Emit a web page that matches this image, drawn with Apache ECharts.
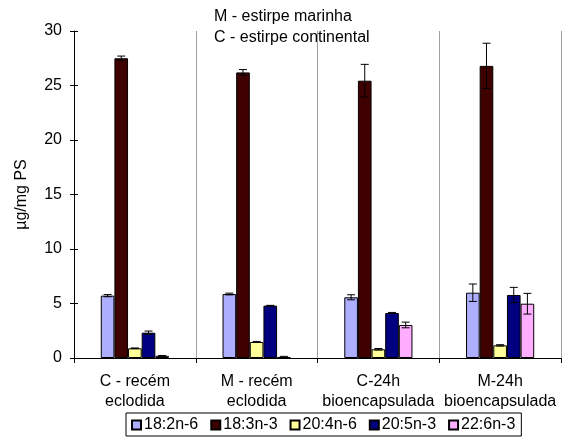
<!DOCTYPE html>
<html><head><meta charset="utf-8">
<script src="https://cdn.jsdelivr.net/npm/echarts@6/dist/echarts.min.js"></script>
<style>html,body{margin:0;padding:0;background:#fff}#c{width:562px;height:441px}</style>
</head><body><div id="c"></div>
<script>
var categories = ['C - recém\neclodida', 'M - recém\neclodida', 'C-24h\nbioencapsulada', 'M-24h\nbioencapsulada'];
var seriesNames = ['18:2n-6', '18:3n-3', '20:4n-6', '20:5n-3', '22:6n-3'];
var v_18_2n6 = [5.72, 5.87, 5.57, 5.99];
var v_18_3n3 = [27.5, 26.2, 25.44, 26.8];
var v_20_4n6 = [0.89, 1.47, 0.8, 1.16];
var v_20_5n3 = [2.32, 4.8, 4.13, 5.78];
var v_22_6n3 = [0.2, 0.1, 3.03, 4.98];
var e_18_2n6 = [0.1, 0.08, 0.23, 0.8];
var e_18_3n3 = [0.2, 0.26, 1.5, 2.08];
var e_20_4n6 = [0.03, 0.05, 0.07, 0.06];
var e_20_5n3 = [0.15, 0.03, 0.05, 0.7];
var e_22_6n3 = [0.03, 0.05, 0.26, 0.95];
var yTicks = {min: 0, max: 30, interval: 5};
var annotation = ['M - estirpe marinha', 'C - estirpe continental'];
var yName = 'µg/mg PS';

var values = [v_18_2n6, v_18_3n3, v_20_4n6, v_20_5n3, v_22_6n3];
var errors = [e_18_2n6, e_18_3n3, e_20_4n6, e_20_5n3, e_22_6n3];
var colors = ['#AEAEFF', '#3F0000', '#FFFF99', '#000080', '#FFADFF'];
var CAT_GAP = 0.44;
var FONT = 'Liberation Sans, Arial, sans-serif';
var FS = 16;

var series = [];
seriesNames.forEach(function (n, i) {
  series.push({
    name: n, type: 'bar', data: values[i], barGap: 0, barCategoryGap: (CAT_GAP * 100) + '%',
    itemStyle: {color: colors[i], borderColor: '#000', borderWidth: 1}
  });
});
seriesNames.forEach(function (n, i) {
  series.push({
    type: 'custom', name: n + ' err', z: 10, silent: true,
    data: values[i].map(function (v, k) { return [k, v, errors[i][k]]; }),
    encode: {x: 0, y: 1},
    renderItem: function (params, api) {
      var k = api.value(0), v = api.value(1), e = api.value(2);
      var band = api.size([1, 0])[0];
      var bw = band * (1 - CAT_GAP) / 5;
      var c = api.coord([k, v]);
      var x = c[0] + (i - 2) * bw;
      var yTop = api.coord([k, v + e])[1];
      var yBot = api.coord([k, v - e])[1];
      var hw = 4;
      var st = {stroke: '#000', lineWidth: 1};
      return {type: 'group', children: [
        {type: 'line', shape: {x1: x, y1: yTop, x2: x, y2: yBot}, style: st},
        {type: 'line', shape: {x1: x - hw, y1: yTop, x2: x + hw, y2: yTop}, style: st},
        {type: 'line', shape: {x1: x - hw, y1: yBot, x2: x + hw, y2: yBot}, style: st}
      ]};
    }
  });
});

var chart = echarts.init(document.getElementById('c'), null, {renderer: 'canvas'});
chart.setOption({
  animation: false,
  backgroundColor: '#fff',
  textStyle: {fontFamily: FONT},
  grid: {left: 74, right: 1, top: 31, bottom: 83},
  legend: {
    data: seriesNames, left: 126, top: 413, orient: 'horizontal',
    borderColor: '#000', borderWidth: 1, padding: [4, 6, 3, 5],
    itemWidth: 9, itemHeight: 9, itemGap: 12, icon: 'rect',
    textStyle: {fontSize: FS, color: '#000', fontFamily: FONT, padding: [0, 0, 0, -2]}
  },
  xAxis: {
    type: 'category', data: categories,
    axisLine: {lineStyle: {color: '#000', width: 1}},
    axisTick: {show: true, interval: 0, length: 5, lineStyle: {color: '#000'}},
    splitLine: {show: true, interval: 0, lineStyle: {color: '#A0A0A0', width: 1}},
    axisLabel: {interval: 0, color: '#000', fontSize: FS, lineHeight: 20, margin: 14, fontFamily: FONT}
  },
  yAxis: [{
    type: 'value', min: yTicks.min, max: yTicks.max, interval: yTicks.interval,
    name: yName, nameLocation: 'middle', nameRotate: 90, nameGap: 44,
    nameTextStyle: {fontSize: FS, color: '#000', fontFamily: FONT},
    axisLine: {show: true, lineStyle: {color: '#000'}},
    axisTick: {show: true, length: 4, lineStyle: {color: '#000'}},
    splitLine: {show: false},
    axisLabel: {color: '#000', fontSize: FS, margin: 12, fontFamily: FONT}
  }, {
    type: 'value', position: 'left', min: yTicks.min, max: yTicks.max, interval: yTicks.interval,
    axisLine: {show: false},
    axisTick: {show: true, inside: true, length: 4, lineStyle: {color: '#000'}},
    axisLabel: {show: false}, splitLine: {show: false}
  }],
  graphic: [
    {type: 'text', left: 214, top: 9, style: {text: annotation[0], font: FS + 'px ' + FONT, fill: '#000'}},
    {type: 'text', left: 214, top: 30, style: {text: annotation[1], font: FS + 'px ' + FONT, fill: '#000'}}
  ],
  series: series
});
</script></body></html>
